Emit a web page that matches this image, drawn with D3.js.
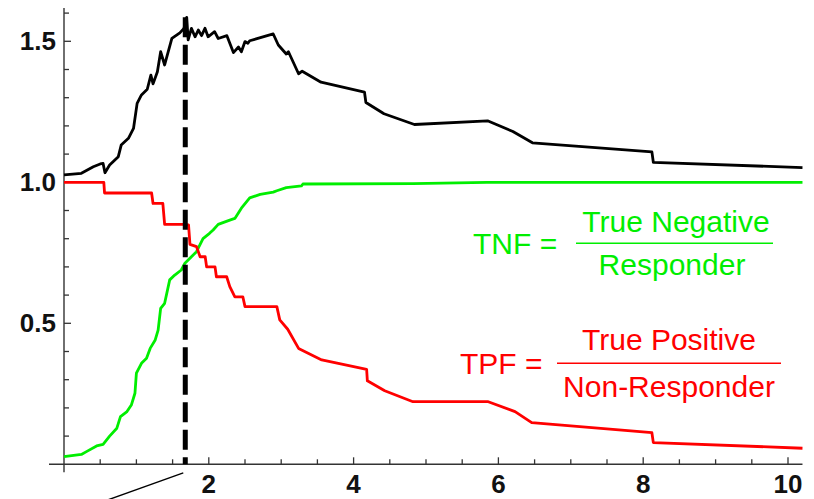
<!DOCTYPE html>
<html>
<head>
<meta charset="utf-8">
<script src="https://cdn.jsdelivr.net/npm/d3@7"></script>
<style>
html,body{margin:0;padding:0;background:#fff;}
svg{display:block;}
</style>
</head>
<body>
<svg id="chart" width="814" height="499"></svg>
<script>
// ---- data ----
const tnfX = [0, 0.24, 0.31, 0.45, 0.54, 0.63, 0.73, 0.78, 0.87, 0.93, 0.98, 1.0, 1.07, 1.14, 1.19, 1.26, 1.3, 1.335, 1.39, 1.46, 1.53, 1.62, 1.67, 1.76, 1.83, 1.92, 2.01, 2.06, 2.13, 2.29, 2.36, 2.45, 2.565, 2.71, 2.89, 2.94, 3.07, 3.28, 3.3, 4.82, 5.84, 10.2];
const tnfY = [0.027, 0.035, 0.045, 0.065, 0.071, 0.1, 0.128, 0.169, 0.187, 0.21, 0.252, 0.323, 0.358, 0.376, 0.411, 0.441, 0.476, 0.553, 0.571, 0.654, 0.671, 0.689, 0.713, 0.736, 0.754, 0.80, 0.819, 0.831, 0.851, 0.866, 0.872, 0.908, 0.945, 0.957, 0.965, 0.97, 0.981, 0.987, 0.994, 0.995, 1.0, 1.0];

const tpfX = [0, 0.55, 0.56, 1.21, 1.23, 1.365, 1.39, 1.65, 1.72, 1.74, 1.83, 1.88, 1.95, 1.97, 2.086, 2.105, 2.247, 2.29, 2.36, 2.47, 2.5, 2.94, 2.98, 3.09, 3.24, 3.56, 4.18, 4.19, 4.43, 4.82, 5.86, 6.23, 6.46, 8.12, 8.14, 10.2];
const tpfY = [1.0, 1.0, 0.962, 0.962, 0.925, 0.925, 0.851, 0.851, 0.849, 0.78, 0.772, 0.736, 0.736, 0.70, 0.70, 0.665, 0.665, 0.63, 0.594, 0.594, 0.559, 0.559, 0.512, 0.479, 0.411, 0.37, 0.337, 0.296, 0.261, 0.222, 0.222, 0.187, 0.148, 0.112, 0.077, 0.057];

const sumX = [0, 0.24, 0.405, 0.50, 0.54, 0.566, 0.63, 0.75, 0.79, 0.89, 0.96, 1.01, 1.07, 1.15, 1.2, 1.23, 1.29, 1.335, 1.39, 1.49, 1.60, 1.657, 1.695, 1.715, 1.76, 1.81, 1.855, 1.9, 1.947, 1.99, 2.08, 2.13, 2.25, 2.34, 2.41, 2.45, 2.5, 2.54, 2.565, 2.89, 2.96, 3.07, 3.1, 3.24, 3.29, 3.55, 4.15, 4.17, 4.42, 4.84, 5.85, 6.2, 6.47, 8.12, 8.14, 10.2];
const sumY = [1.026, 1.032, 1.055, 1.065, 1.067, 1.034, 1.061, 1.091, 1.132, 1.156, 1.191, 1.28, 1.31, 1.33, 1.38, 1.349, 1.392, 1.463, 1.416, 1.51, 1.53, 1.546, 1.585, 1.505, 1.546, 1.516, 1.54, 1.52, 1.546, 1.516, 1.534, 1.51, 1.52, 1.46, 1.48, 1.463, 1.499, 1.493, 1.502, 1.526, 1.487, 1.455, 1.463, 1.385, 1.394, 1.355, 1.32, 1.283, 1.243, 1.205, 1.218, 1.18, 1.14, 1.108, 1.071, 1.052];

const cutoffX = 1.675;
const cutoffTop = 1.585;

const xTickLabels = [2, 4, 6, 8, 10];
const yTickLabels = [0.5, 1.0, 1.5];
const xMinorTicks = d3.range(0.5, 10.01, 0.5);
const yMinorTicks = d3.range(0.1, 1.61, 0.1);

// ---- drawing ----
const svg = d3.select("#chart");
const x = d3.scaleLinear().domain([0, 10]).range([64, 788]);
const y = d3.scaleLinear().domain([0, 1.5]).range([464.3, 41.3]);

const axisColor = "#333";
const GREEN = "#00ee00", RED = "#ff0000";

// axes lines
svg.append("line").attr("x1", 49).attr("x2", x(10.2)).attr("y1", y(0)).attr("y2", y(0))
  .attr("stroke", axisColor).attr("stroke-width", 1.4);
svg.append("line").attr("x1", x(0)).attr("x2", x(0)).attr("y1", y(0) + 8).attr("y2", y(1.618))
  .attr("stroke", axisColor).attr("stroke-width", 1.4);

// ticks
const isMajorX = v => Math.abs(v / 2 - Math.round(v / 2)) < 1e-6;
svg.append("g").selectAll("line").data(xMinorTicks).join("line")
  .attr("x1", d => x(d)).attr("x2", d => x(d))
  .attr("y1", y(0)).attr("y2", d => y(0) - (isMajorX(d) ? 7 : 5))
  .attr("stroke", axisColor).attr("stroke-width", 1.3);
const isMajorY = v => Math.abs(v * 2 - Math.round(v * 2)) < 1e-6;
svg.append("g").selectAll("line").data(yMinorTicks).join("line")
  .attr("x1", x(0)).attr("x2", d => x(0) + (isMajorY(d) ? 7 : 5))
  .attr("y1", d => y(d)).attr("y2", d => y(d))
  .attr("stroke", axisColor).attr("stroke-width", 1.3);

// tick labels
svg.append("g").selectAll("text").data(xTickLabels).join("text")
  .attr("x", d => x(d)).attr("y", 492.5)
  .attr("text-anchor", "middle")
  .attr("font-family", "Liberation Sans, Arial, sans-serif").attr("font-weight", "bold")
  .attr("font-size", 26).attr("fill", "#111")
  .text(d => d);
svg.append("g").selectAll("text").data(yTickLabels).join("text")
  .attr("x", 56).attr("y", d => y(d)).attr("dy", "0.35em")
  .attr("text-anchor", "end")
  .attr("font-family", "Liberation Sans, Arial, sans-serif").attr("font-weight", "bold")
  .attr("font-size", 26).attr("fill", "#111")
  .text(d => d.toFixed(1));

// curves
const line = d3.line().x(d => x(d[0])).y(d => y(d[1]));
const zip = (a, b) => a.map((v, i) => [v, b[i]]);
svg.append("path").datum(zip(tnfX, tnfY)).attr("d", line)
  .attr("fill", "none").attr("stroke", GREEN).attr("stroke-width", 2.8).attr("stroke-linejoin", "round");
svg.append("path").datum(zip(tpfX, tpfY)).attr("d", line)
  .attr("fill", "none").attr("stroke", RED).attr("stroke-width", 2.8).attr("stroke-linejoin", "round");
svg.append("path").datum(zip(sumX, sumY)).attr("d", line)
  .attr("fill", "none").attr("stroke", "#000").attr("stroke-width", 2.8).attr("stroke-linejoin", "round");

// dashed cutoff
svg.append("line").attr("x1", x(cutoffX)).attr("x2", x(cutoffX))
  .attr("y1", y(0)).attr("y2", y(cutoffTop))
  .attr("stroke", "#000").attr("stroke-width", 5)
  .attr("stroke-dasharray", "20,7.5").attr("stroke-dashoffset", 13);

// pointer line
const px0 = x(cutoffX) - 2, py0 = y(0) + 8.5;
svg.append("line").attr("x1", px0).attr("y1", py0)
  .attr("x2", px0 - 100).attr("y2", py0 + 100 * 0.359)
  .attr("stroke", "#000").attr("stroke-width", 1.4);

// annotations
function fraction(label, num, den, color, lx, fx1, fx2, fy, numCx, denCx, numBase, denBase, labelBase) {
  const g = svg.append("g").attr("fill", color)
    .attr("font-family", "Liberation Sans, Arial, sans-serif").attr("font-size", 30);
  g.append("text").attr("x", lx).attr("y", labelBase).text(label);
  g.append("text").attr("x", numCx).attr("y", numBase).attr("text-anchor", "middle").text(num);
  g.append("text").attr("x", denCx).attr("y", denBase).attr("text-anchor", "middle").text(den);
  svg.append("line").attr("x1", fx1).attr("x2", fx2).attr("y1", fy).attr("y2", fy)
    .attr("stroke", color).attr("stroke-width", 1.6);
}
fraction("TNF =", "True Negative", "Responder", GREEN, 473, 576, 773, 243.3, 676, 672, 232, 275, 253.5);
fraction("TPF =", "True Positive", "Non-Responder", RED, 460, 557, 781, 363.3, 669, 669, 350, 397, 373.5);
</script>
</body>
</html>
